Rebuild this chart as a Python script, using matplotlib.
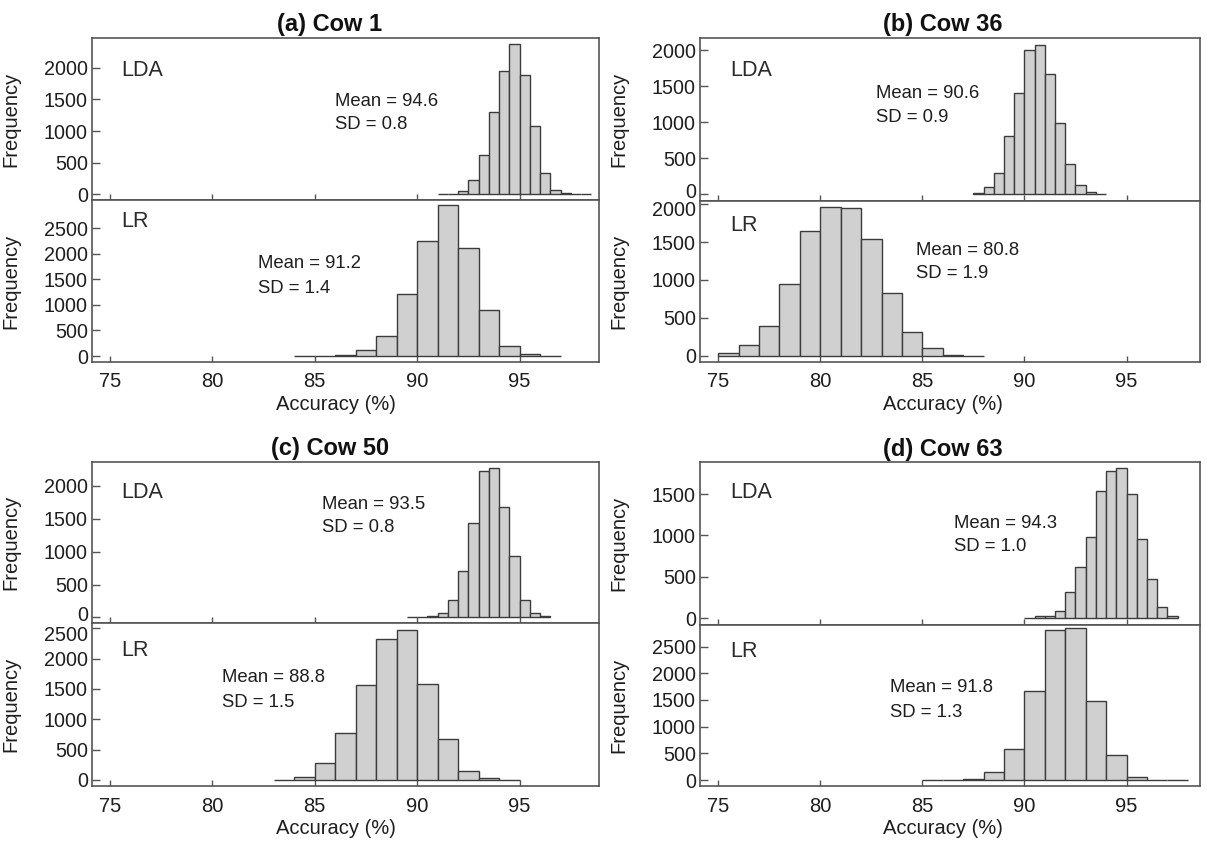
import matplotlib
matplotlib.use("Agg")
import matplotlib.pyplot as plt
import matplotlib.transforms as mtransforms
import numpy as np

plt.rcParams['font.family'] = ['Liberation Sans', 'DejaVu Sans']

# ---------------- data ----------------
titles = ["(a) Cow 1", "(b) Cow 36", "(c) Cow 50", "(d) Cow 63"]
methods = ["LDA", "LR"]

# histogram bin starts, widths and counts
a_lda_start, a_lda_width = 91.0, 0.5
a_lda_counts = [2, 8, 53, 222, 619, 1307, 1958, 2376, 1889, 1079, 328, 63, 10, 2, 1]
a_lr_start, a_lr_width = 84.0, 1.0
a_lr_counts = [1, 2, 20, 117, 391, 1204, 2240, 2956, 2109, 892, 202, 39, 3]

b_lda_start, b_lda_width = 87.5, 0.5
b_lda_counts = [19, 102, 301, 806, 1403, 2009, 2079, 1667, 986, 426, 125, 30, 5]
b_lr_start, b_lr_width = 75.0, 1.0
b_lr_counts = [43, 143, 400, 943, 1648, 1965, 1952, 1535, 822, 317, 104, 17, 2]

c_lda_start, c_lda_width = 89.5, 0.5
c_lda_counts = [3, 2, 15, 66, 268, 712, 1439, 2227, 2273, 1672, 939, 268, 66, 15]
c_lr_start, c_lr_width = 83.0, 1.0
c_lr_counts = [3, 49, 275, 769, 1560, 2324, 2478, 1582, 670, 148, 27, 2]

d_lda_start, d_lda_width = 90.0, 0.5
d_lda_counts = [5, 24, 32, 92, 321, 614, 984, 1538, 1780, 1820, 1500, 960, 480, 140, 25]
d_lr_start, d_lr_width = 85.0, 1.0
d_lr_counts = [3, 5, 25, 156, 588, 1663, 2806, 2838, 1488, 463, 55, 8, 2]

a_means = ["94.6", "91.2"]; a_sds = ["0.8", "1.4"]
b_means = ["90.6", "80.8"]; b_sds = ["0.9", "1.9"]
c_means = ["93.5", "88.8"]; c_sds = ["0.8", "1.5"]
d_means = ["94.3", "91.8"]; d_sds = ["1.0", "1.3"]

x_ticks = [75, 80, 85, 90, 95]
a_yticks = [[0, 500, 1000, 1500, 2000], [0, 500, 1000, 1500, 2000, 2500]]
b_yticks = [[0, 500, 1000, 1500, 2000], [0, 500, 1000, 1500, 2000]]
c_yticks = [[0, 500, 1000, 1500, 2000], [0, 500, 1000, 1500, 2000, 2500]]
d_yticks = [[0, 500, 1000, 1500], [0, 500, 1000, 1500, 2000, 2500]]

# ---------------- layout ----------------
W, H = 1207, 843
fig = plt.figure(figsize=(W / 100, H / 100), dpi=100)


def rect(x0, y0, x1, y1):
    return [x0 / W, 1 - y1 / H, (x1 - x0) / W, (y1 - y0) / H]


panels = [
    dict(title=titles[0], tx=330, ty=24, xl=(74.12, 98.88), cols=(92, 599),
         rows=[(38, 200), (200, 362)], ylims=[(-95, 2476), (-117, 3047)],
         hist=[(a_lda_start, a_lda_width, a_lda_counts), (a_lr_start, a_lr_width, a_lr_counts)],
         yt=a_yticks, means=a_means, sds=a_sds,
         lab=[(0.057, 0.80), (0.057, 0.866)],
         txt=[(0.479, 0.611, 0.466), (0.327, 0.605, 0.451)],
         xlab_y=404, pad=7, nudge=False),
    dict(title=titles[1], tx=943, ty=24, xl=(74.11, 98.6), cols=(700, 1200),
         rows=[(38, 201), (201, 362)], ylims=[(-93, 2171), (-80, 2040)],
         hist=[(b_lda_start, b_lda_width, b_lda_counts), (b_lr_start, b_lr_width, b_lr_counts)],
         yt=b_yticks, means=b_means, sds=b_sds,
         lab=[(0.06, 0.80), (0.06, 0.845)],
         txt=[(0.352, 0.66, 0.512), (0.432, 0.693, 0.547)],
         xlab_y=404, pad=7, nudge=True),
    dict(title=titles[2], tx=330, ty=449, xl=(74.12, 98.88), cols=(92, 599),
         rows=[(462, 623), (623, 786)], ylims=[(-85, 2364), (-99, 2586)],
         hist=[(c_lda_start, c_lda_width, c_lda_counts), (c_lr_start, c_lr_width, c_lr_counts)],
         yt=c_yticks, means=c_means, sds=c_sds,
         lab=[(0.057, 0.81), (0.057, 0.83)],
         txt=[(0.454, 0.738, 0.593), (0.256, 0.664, 0.513)],
         xlab_y=829, pad=8, nudge=True),
    dict(title=titles[3], tx=943, ty=450, xl=(74.11, 98.6), cols=(700, 1200),
         rows=[(462, 625), (625, 786)], ylims=[(-81, 1887), (-112, 2903)],
         hist=[(d_lda_start, d_lda_width, d_lda_counts), (d_lr_start, d_lr_width, d_lr_counts)],
         yt=d_yticks, means=d_means, sds=d_sds,
         lab=[(0.06, 0.81), (0.06, 0.835)],
         txt=[(0.507, 0.625, 0.481), (0.379, 0.609, 0.457)],
         xlab_y=829, pad=8, nudge=False),
]

spine_col = "#555555"
text_col = "#1e1e1e"

for p in panels:
    x0, x1 = p["cols"]
    for k in range(2):
        y0, y1 = p["rows"][k]
        ax = fig.add_axes(rect(x0, y0, x1, y1))
        start, width, counts = p["hist"][k]
        edges = start + width * np.arange(len(counts))
        ax.bar(edges, counts, width=width, align="edge", color="#d0d0d0",
               edgecolor="#3c3c3c", linewidth=1.0, zorder=2)
        ax.set_xlim(*p["xl"])
        ax.set_ylim(*p["ylims"][k])
        ax.set_xticks(x_ticks)
        ax.set_yticks(p["yt"][k])
        for s in ax.spines.values():
            s.set_color(spine_col)
            s.set_linewidth(1.2)
        ax.tick_params(axis="y", direction="in", length=6, width=1, color=spine_col,
                       labelsize=14.2, labelcolor=text_col, pad=3)
        ax.tick_params(axis="x", direction="in", length=4.5, width=1, color=spine_col,
                       labelsize=14.5, labelcolor=text_col, pad=p["pad"])
        if k == 0:
            ax.tick_params(axis="x", labelbottom=False)
        if p["nudge"]:
            labels = ax.get_yticklabels()
            if k == 0:
                lab = labels[0]
                dy = 2.5
            else:
                lab = labels[-1]
                dy = -3.5
            lab.set_transform(lab.get_transform() +
                              mtransforms.ScaledTranslation(0, dy / 72, fig.dpi_scale_trans))
        ax.set_ylabel("Frequency", fontsize=14.5, color=text_col)
        ax.yaxis.set_label_coords(-72.0 / (x1 - x0), 0.5)
        lx, ly = p["lab"][k]
        ax.text(lx, ly, methods[k], transform=ax.transAxes, fontsize=15.5,
                color="#2a2a2a", ha="left", va="center")
        tx, my, sy = p["txt"][k]
        ax.text(tx, my, "Mean = " + p["means"][k], transform=ax.transAxes,
                fontsize=13.3, color=text_col, ha="left", va="center")
        ax.text(tx, sy, "SD = " + p["sds"][k], transform=ax.transAxes,
                fontsize=13.3, color=text_col, ha="left", va="center")
    fig.text(p["tx"] / W, 1 - p["ty"] / H, p["title"], fontsize=17, fontweight="bold",
             ha="center", va="center", color="#111111")
    cx = 336 if x0 < 600 else 943
    fig.text(cx / W, 1 - p["xlab_y"] / H, "Accuracy (%)", fontsize=14.5,
             ha="center", va="center", color=text_col)

fig.savefig("out.png", dpi=100)
